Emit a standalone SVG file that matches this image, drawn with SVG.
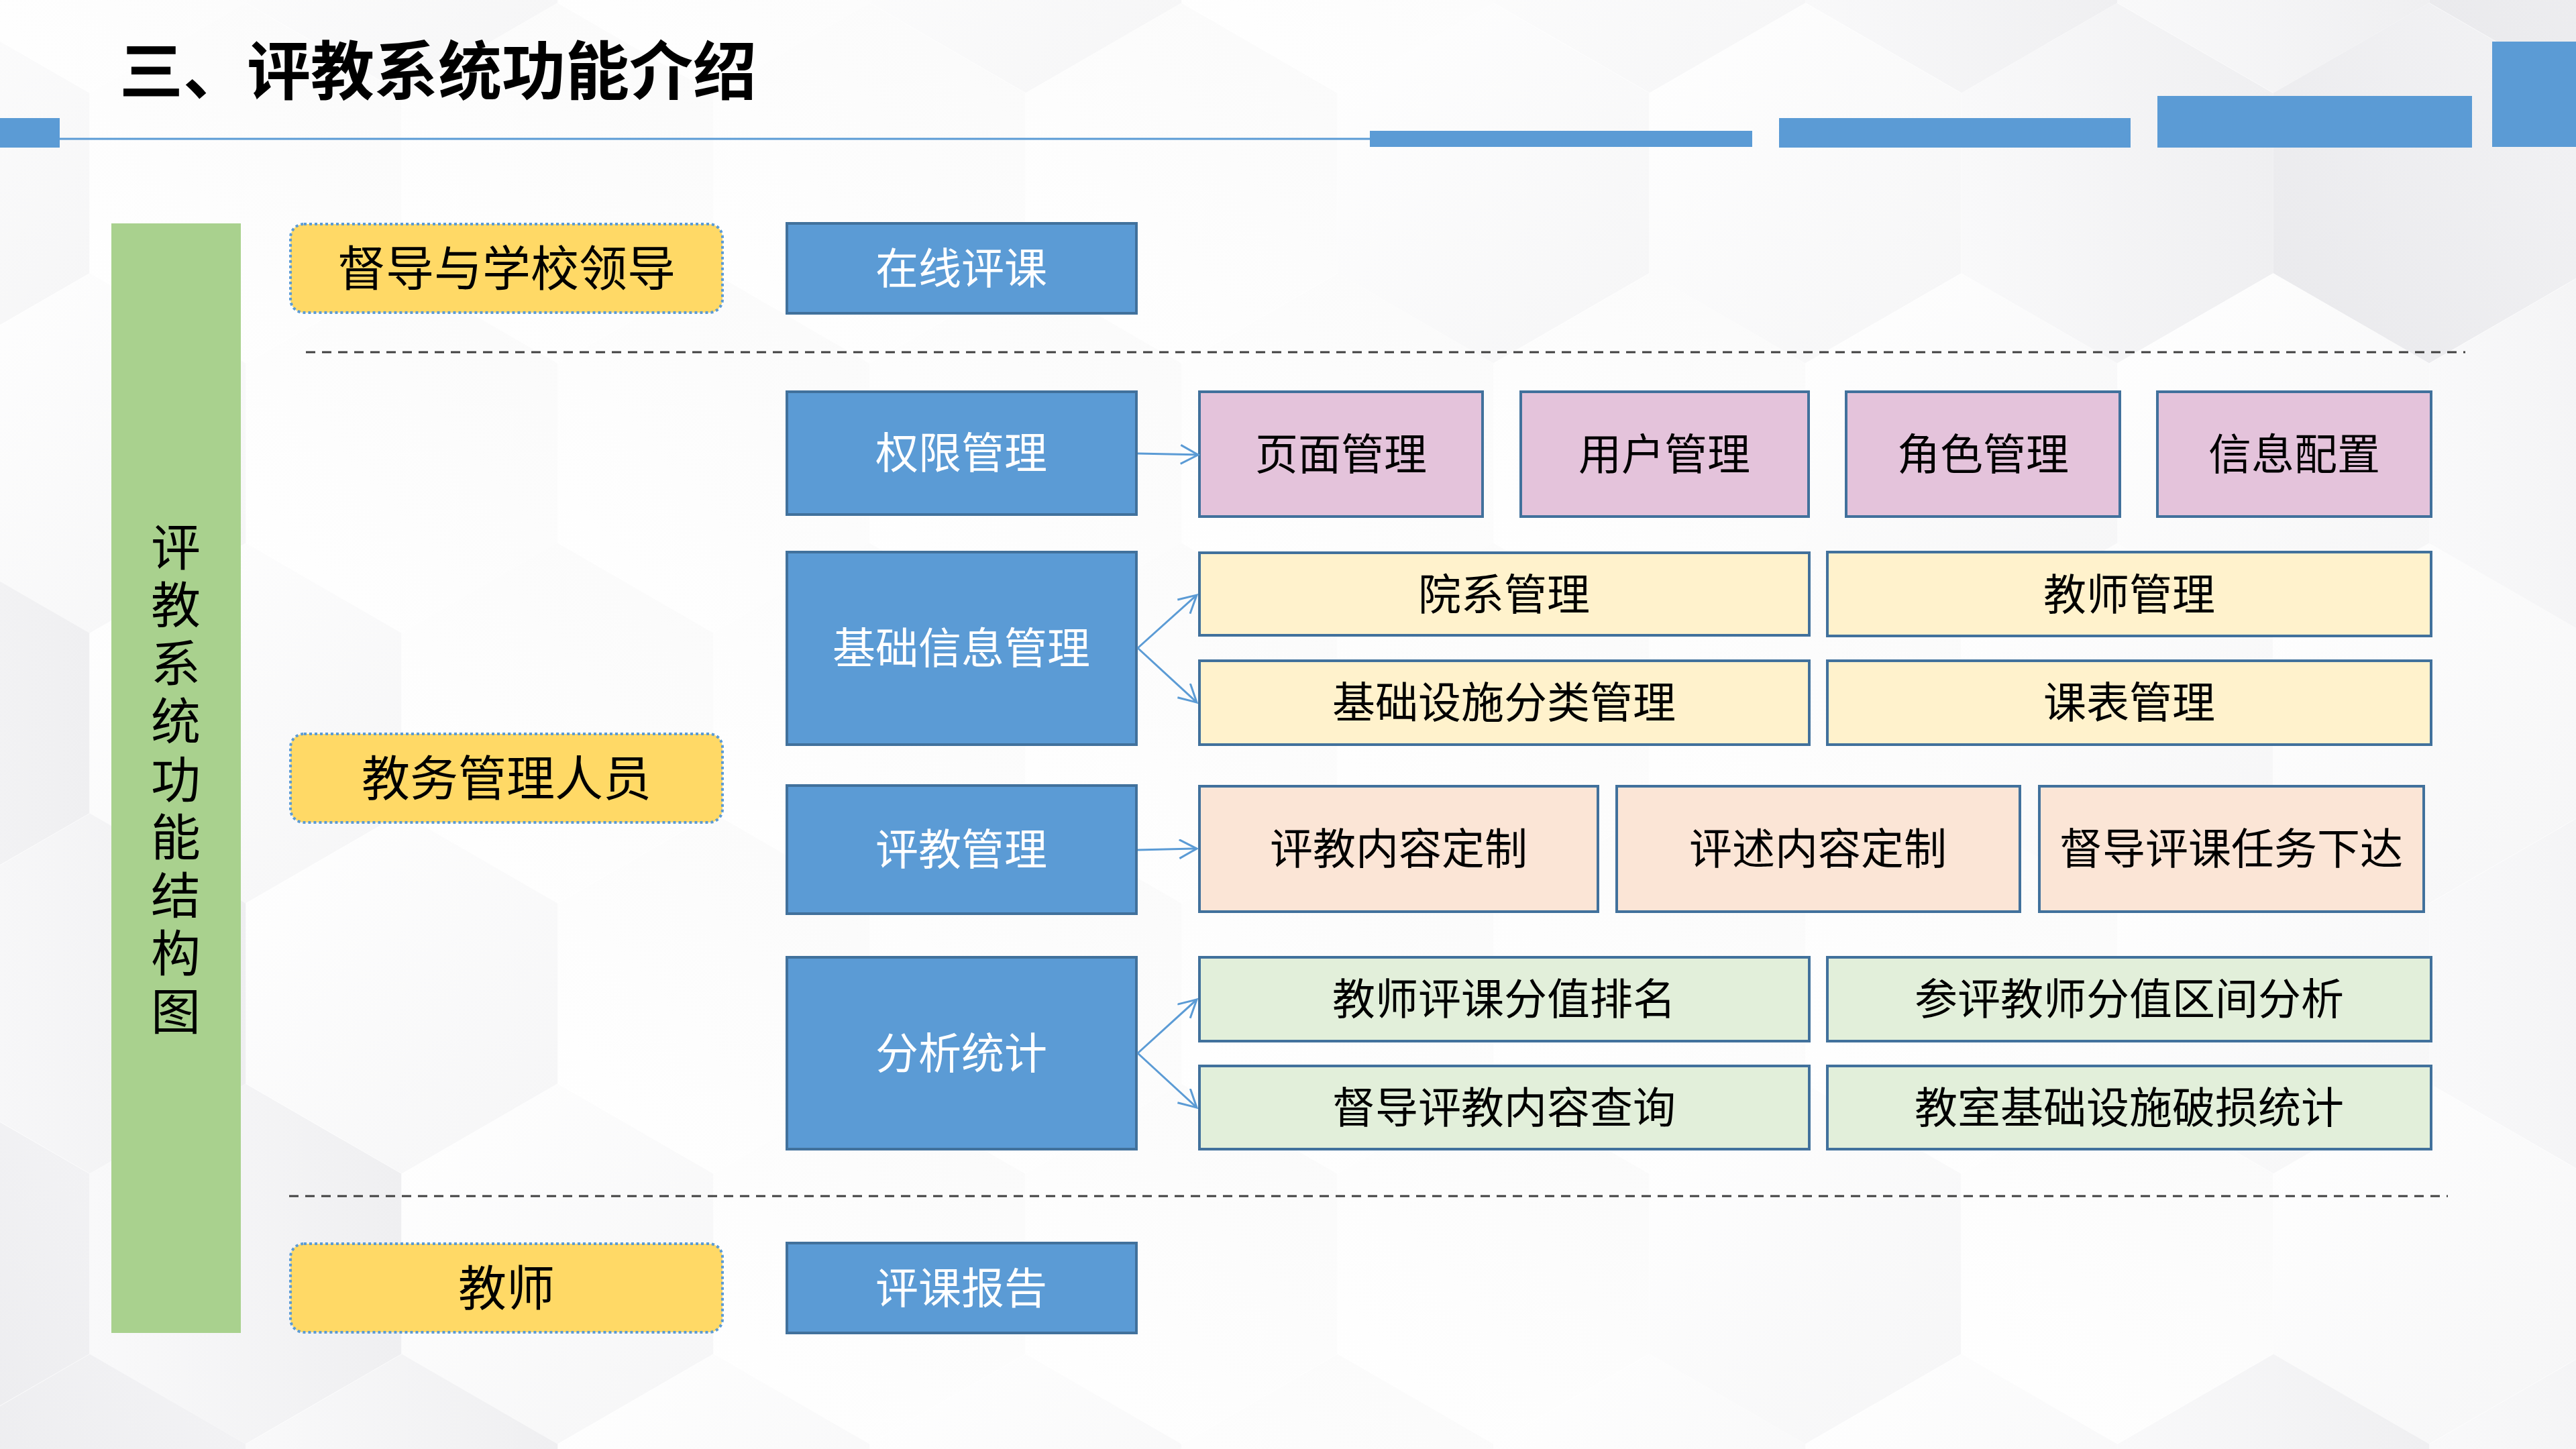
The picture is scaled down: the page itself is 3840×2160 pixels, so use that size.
<svg xmlns="http://www.w3.org/2000/svg" xmlns:xlink="http://www.w3.org/1999/xlink" width="3840" height="2160" viewBox="0 0 3840 2160">
<defs>
<linearGradient id="ga" x1="0" y1="0" x2="1" y2="1"><stop offset="0" stop-color="#FFFFFF"/><stop offset="1" stop-color="#F5F5F6"/></linearGradient>
<linearGradient id="gb" x1="0" y1="0" x2="1" y2="0"><stop offset="0" stop-color="#F9F9FA"/><stop offset="1" stop-color="#EFEFF1"/></linearGradient>
<linearGradient id="gc" x1="1" y1="0" x2="0" y2="1"><stop offset="0" stop-color="#F3F3F5"/><stop offset="1" stop-color="#E9E9EC"/></linearGradient>
<linearGradient id="gw" x1="0" y1="1" x2="1" y2="0"><stop offset="0" stop-color="#FFFFFF"/><stop offset="1" stop-color="#FAFAFA"/></linearGradient>
<polygon id="hx" points="0,-268.5 232.5,-134.2 232.5,134.2 0,268.5 -232.5,134.2 -232.5,-134.2"/>
<marker id="arr" markerUnits="userSpaceOnUse" markerWidth="32" markerHeight="34" refX="27" refY="15" orient="auto" viewBox="0 0 32 34">
<path d="M1,1 L27,15 L1,29" fill="none" stroke="#5B9BD5" stroke-width="3"/>
</marker>
</defs>
<style>
.a{fill:url(#ga)} .b{fill:url(#gb)} .c{fill:url(#gc)} .w{fill:url(#gw)}
.blue{fill:#5B9BD5;stroke:#41719C;stroke-width:4}
.pink{fill:#E4C3DB;stroke:#41719C;stroke-width:4}
.lyel{fill:#FFF2CC;stroke:#41719C;stroke-width:4}
.peach{fill:#FBE5D6;stroke:#41719C;stroke-width:4}
.lgrn{fill:#E2EFDA;stroke:#41719C;stroke-width:4}
.role{fill:#FFD966;stroke:#5B9BD5;stroke-width:4;stroke-dasharray:4 4}
.bar{fill:#5B9BD5}
text{font-family:"Noto Sans CJK SC","Noto Sans",sans-serif;text-anchor:middle}
.wt{fill:#FFFFFF;font-size:64px}
.bt{fill:#000000;font-size:64px}
.rt{fill:#000000;font-size:72px}
.vt{fill:#000000;font-size:74px;writing-mode:vertical-rl;letter-spacing:12.5px}
.dash{stroke:#404040;stroke-width:3;stroke-dasharray:14 10;fill:none}
.con{stroke:#5B9BD5;stroke-width:3;fill:none;marker-end:url(#arr)}
</style>
<rect x="0" y="0" width="3840" height="2160" fill="#FFFFFF"/>
<g id="background">
<use href="#hx" x="134" y="-130" class="w"/><use href="#hx" x="599" y="-130" class="a"/><use href="#hx" x="1064" y="-130" class="w"/><use href="#hx" x="1529" y="-130" class="a"/><use href="#hx" x="1994" y="-130" class="w"/><use href="#hx" x="2459" y="-130" class="a"/><use href="#hx" x="2924" y="-130" class="b"/><use href="#hx" x="3389" y="-130" class="b"/><use href="#hx" x="3854" y="-130" class="c"/>
<use href="#hx" x="-99" y="273" class="a"/><use href="#hx" x="366" y="273" class="w"/><use href="#hx" x="831" y="273" class="w"/><use href="#hx" x="1296" y="273" class="w"/><use href="#hx" x="1761" y="273" class="w"/><use href="#hx" x="2226" y="273" class="a"/><use href="#hx" x="2691" y="273" class="a"/><use href="#hx" x="3156" y="273" class="b"/><use href="#hx" x="3621" y="273" class="c"/><use href="#hx" x="4086" y="273" class="b"/>
<use href="#hx" x="134" y="676" class="a"/><use href="#hx" x="599" y="676" class="w"/><use href="#hx" x="1064" y="676" class="w"/><use href="#hx" x="1529" y="676" class="w"/><use href="#hx" x="1994" y="676" class="w"/><use href="#hx" x="2459" y="676" class="w"/><use href="#hx" x="2924" y="676" class="a"/><use href="#hx" x="3389" y="676" class="a"/><use href="#hx" x="3854" y="676" class="b"/>
<use href="#hx" x="-99" y="1078" class="b"/><use href="#hx" x="366" y="1078" class="a"/><use href="#hx" x="831" y="1078" class="w"/><use href="#hx" x="1296" y="1078" class="w"/><use href="#hx" x="1761" y="1078" class="w"/><use href="#hx" x="2226" y="1078" class="w"/><use href="#hx" x="2691" y="1078" class="w"/><use href="#hx" x="3156" y="1078" class="a"/><use href="#hx" x="3621" y="1078" class="a"/><use href="#hx" x="4086" y="1078" class="b"/>
<use href="#hx" x="134" y="1481" class="b"/><use href="#hx" x="599" y="1481" class="a"/><use href="#hx" x="1064" y="1481" class="w"/><use href="#hx" x="1529" y="1481" class="w"/><use href="#hx" x="1994" y="1481" class="w"/><use href="#hx" x="2459" y="1481" class="w"/><use href="#hx" x="2924" y="1481" class="w"/><use href="#hx" x="3389" y="1481" class="a"/><use href="#hx" x="3854" y="1481" class="b"/>
<use href="#hx" x="-99" y="1884" class="c"/><use href="#hx" x="366" y="1884" class="b"/><use href="#hx" x="831" y="1884" class="a"/><use href="#hx" x="1296" y="1884" class="w"/><use href="#hx" x="1761" y="1884" class="w"/><use href="#hx" x="2226" y="1884" class="w"/><use href="#hx" x="2691" y="1884" class="a"/><use href="#hx" x="3156" y="1884" class="w"/><use href="#hx" x="3621" y="1884" class="a"/><use href="#hx" x="4086" y="1884" class="b"/>
<use href="#hx" x="134" y="2287" class="c"/><use href="#hx" x="599" y="2287" class="b"/><use href="#hx" x="1064" y="2287" class="a"/><use href="#hx" x="1529" y="2287" class="a"/><use href="#hx" x="1994" y="2287" class="w"/><use href="#hx" x="2459" y="2287" class="a"/><use href="#hx" x="2924" y="2287" class="a"/><use href="#hx" x="3389" y="2287" class="b"/><use href="#hx" x="3854" y="2287" class="b"/>
</g>
<g id="header">
<text x="178" y="141" style="font-size:95px;font-weight:bold;text-anchor:start;fill:#000000">三、评教系统功能介绍</text>
<rect class="bar" x="0" y="176" width="89" height="44"/>
<line x1="89" y1="207" x2="2042" y2="207" stroke="#5B9BD5" stroke-width="3"/>
<rect class="bar" x="2042" y="195" width="570" height="24"/>
<rect class="bar" x="2652" y="176" width="524" height="44"/>
<rect class="bar" x="3216" y="143" width="469" height="77"/>
<rect class="bar" x="3715" y="62" width="125" height="157"/>
</g>
<g id="side-title">
<rect x="166" y="333" width="193" height="1654" fill="#A9D18E"/>
<text class="vt" x="262" y="1167">评教系统功能结构图</text>
</g>
<g id="separators">
<line class="dash" x1="456" y1="525" x2="3675" y2="525"/>
<line class="dash" x1="431" y1="1783" x2="3649" y2="1783"/>
</g>
<g id="role-leader"><rect class="role" x="433" y="334" width="644" height="132" rx="20"/><text class="rt" x="755" y="426">督导与学校领导</text></g>
<g id="role-admin"><rect class="role" x="433" y="1094" width="644" height="132" rx="20"/><text class="rt" x="755" y="1186">教务管理人员</text></g>
<g id="role-teacher"><rect class="role" x="433" y="1854" width="644" height="132" rx="20"/><text class="rt" x="755" y="1946">教师</text></g>
<g id="online-review"><rect class="blue" x="1173" y="333" width="521" height="134"/><text class="wt" x="1433" y="423">在线评课</text></g>
<g id="permission"><rect class="blue" x="1173" y="584" width="521" height="183"/><text class="wt" x="1433" y="698">权限管理</text></g>
<g id="basic-info"><rect class="blue" x="1173" y="823" width="521" height="287"/><text class="wt" x="1433" y="989">基础信息管理</text></g>
<g id="evaluation"><rect class="blue" x="1173" y="1171" width="521" height="191"/><text class="wt" x="1433" y="1289">评教管理</text></g>
<g id="analysis"><rect class="blue" x="1173" y="1427" width="521" height="286"/><text class="wt" x="1433" y="1593">分析统计</text></g>
<g id="report"><rect class="blue" x="1173" y="1853" width="521" height="134"/><text class="wt" x="1433" y="1943">评课报告</text></g>
<g id="page-mgmt"><rect class="pink" x="1788" y="584" width="422" height="186"/><text class="bt" x="1999" y="700">页面管理</text></g>
<g id="user-mgmt"><rect class="pink" x="2267" y="584" width="429" height="186"/><text class="bt" x="2481" y="700">用户管理</text></g>
<g id="role-mgmt"><rect class="pink" x="2752" y="584" width="408" height="186"/><text class="bt" x="2956" y="700">角色管理</text></g>
<g id="info-config"><rect class="pink" x="3216" y="584" width="408" height="186"/><text class="bt" x="3420" y="700">信息配置</text></g>
<g id="dept-mgmt"><rect class="lyel" x="1788" y="824" width="909" height="123"/><text class="bt" x="2242" y="909">院系管理</text></g>
<g id="teacher-mgmt"><rect class="lyel" x="2724" y="823" width="900" height="125"/><text class="bt" x="3174" y="909">教师管理</text></g>
<g id="facility-mgmt"><rect class="lyel" x="1788" y="985" width="909" height="125"/><text class="bt" x="2242" y="1070">基础设施分类管理</text></g>
<g id="timetable-mgmt"><rect class="lyel" x="2724" y="985" width="900" height="125"/><text class="bt" x="3174" y="1070">课表管理</text></g>
<g id="eval-content"><rect class="peach" x="1788" y="1172" width="594" height="187"/><text class="bt" x="2085" y="1288">评教内容定制</text></g>
<g id="comment-content"><rect class="peach" x="2410" y="1172" width="601" height="187"/><text class="bt" x="2710" y="1288">评述内容定制</text></g>
<g id="task-assign"><rect class="peach" x="3040" y="1172" width="573" height="187"/><text class="bt" x="3326" y="1288">督导评课任务下达</text></g>
<g id="score-rank"><rect class="lgrn" x="1788" y="1427" width="909" height="125"/><text class="bt" x="2242" y="1512">教师评课分值排名</text></g>
<g id="score-range"><rect class="lgrn" x="2724" y="1427" width="900" height="125"/><text class="bt" x="3174" y="1512">参评教师分值区间分析</text></g>
<g id="content-query"><rect class="lgrn" x="1788" y="1589" width="909" height="124"/><text class="bt" x="2242" y="1674">督导评教内容查询</text></g>
<g id="damage-stats"><rect class="lgrn" x="2724" y="1589" width="900" height="124"/><text class="bt" x="3174" y="1674">教室基础设施破损统计</text></g>
<g id="connectors">
<line class="con" x1="1696" y1="676" x2="1786" y2="678"/>
<line class="con" x1="1696" y1="966" x2="1784" y2="887"/>
<line class="con" x1="1696" y1="966" x2="1784" y2="1047"/>
<line class="con" x1="1696" y1="1267" x2="1784" y2="1265"/>
<line class="con" x1="1696" y1="1570" x2="1784" y2="1490"/>
<line class="con" x1="1696" y1="1570" x2="1784" y2="1651"/>
</g>
</svg>
